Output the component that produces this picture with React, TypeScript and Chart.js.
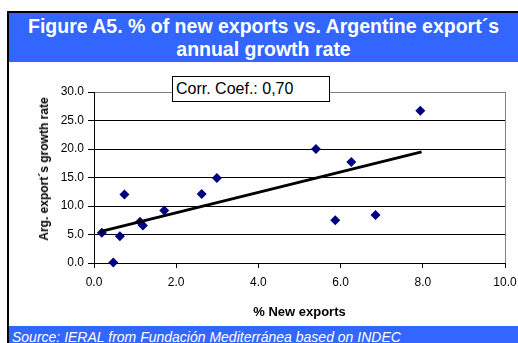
import React, { useEffect, useRef } from "react";
import { Chart, registerables } from "chart.js";

Chart.register(...registerables);

// % of new exports (x) vs. annual growth rate of Argentine exports (y)
const newExportsPct = [0.19, 0.47, 0.63, 0.74, 1.12, 1.19, 1.71, 2.62, 2.99, 5.4, 5.87, 6.26, 6.85, 7.94];
const exportGrowth = [5.3, 0.1, 4.7, 12.0, 7.25, 6.6, 9.2, 12.1, 14.9, 20.0, 7.5, 17.7, 8.4, 26.7];

// Linear trend line end points
const trendX = [0.15, 7.97];
const trendY = [5.5, 19.5];

const xTicks = [0, 2, 4, 6, 8, 10];
const yTicks = [0, 5, 10, 15, 20, 25, 30];

const corrLabel = "Corr. Coef.: 0,70";
const titleLines = ["Figure A5. % of new exports vs. Argentine export´s", "annual growth rate"];
const xTitle = "% New exports";
const yTitle = "Arg. export´s growth rate";
const sourceText = "Source: IERAL from Fundación Mediterránea based on INDEC";

const FONT = "'Liberation Sans', Arial, sans-serif";
const BLUE = "#3366FF";

// let the layout padding alone decide where the plot area sits
const noScalePadding = (s: any) => {
  s.paddingLeft = 0;
  s.paddingRight = 0;
  s.paddingTop = 0;
  s.paddingBottom = 0;
};

export default function App() {
  const canvasRef = useRef<HTMLCanvasElement | null>(null);

  useEffect(() => {
    const canvas = canvasRef.current;
    if (!canvas) return;
    const points = newExportsPct.map((x, i) => ({ x, y: exportGrowth[i] }));
    const trend = trendX.map((x, i) => ({ x, y: trendY[i] }));

    const chart = new Chart(canvas, {
      type: "scatter",
      data: {
        datasets: [
          {
            label: "Trend",
            data: trend,
            showLine: true,
            borderColor: "#000000",
            borderWidth: 3,
            pointRadius: 0,
            pointHoverRadius: 0,
            fill: false,
            clip: false as any,
          },
          {
            label: "Years",
            data: points,
            pointStyle: "rectRot",
            pointRadius: 5,
            pointHoverRadius: 5,
            backgroundColor: "#000080",
            borderColor: "#000080",
            borderWidth: 0,
            clip: false as any,
          },
        ],
      },
      options: {
        responsive: false,
        animation: false,
        devicePixelRatio: 1,
        layout: { padding: { left: 30, right: 13, top: 92, bottom: 17 } },
        plugins: {
          legend: { display: false },
          tooltip: { enabled: false },
          title: { display: false },
        },
        scales: {
          x: {
            type: "linear",
            min: xTicks[0],
            max: xTicks[xTicks.length - 1],
            afterFit: (s: any) => {
              s.height = 63;
              noScalePadding(s);
            },
            afterBuildTicks: (s: any) => {
              s.ticks = xTicks.map((v) => ({ value: v }));
            },
            ticks: {
              color: "#000",
              font: { family: FONT, size: 12 },
              padding: 7,
              maxRotation: 0,
              callback: (v: any) => Number(v).toFixed(1),
            },
            grid: {
              drawOnChartArea: true,
              drawTicks: true,
              tickLength: 5,
              tickColor: "#000",
              color: (ctx: any) => (ctx.tick && ctx.tick.value === 10 ? "#808080" : "rgba(0,0,0,0)"),
              lineWidth: 1,
            },
            border: { display: true, color: "#000", width: 1 },
            title: {
              display: true,
              text: xTitle,
              color: "#000",
              font: { family: FONT, size: 13, weight: "bold" },
              padding: { top: 0, bottom: 6 },
            },
          },
          y: {
            type: "linear",
            min: yTicks[0],
            max: yTicks[yTicks.length - 1],
            afterFit: (s: any) => {
              s.width = 64;
              noScalePadding(s);
            },
            afterBuildTicks: (s: any) => {
              s.ticks = yTicks.map((v) => ({ value: v }));
            },
            ticks: {
              color: "#000",
              font: { family: FONT, size: 12 },
              padding: 4,
              callback: (v: any) => Number(v).toFixed(1),
            },
            grid: {
              drawOnChartArea: true,
              drawTicks: true,
              tickLength: 6,
              tickColor: "#000",
              color: (ctx: any) => (ctx.tick && ctx.tick.value === 30 ? "#808080" : "#000"),
              lineWidth: 1,
            },
            border: { display: true, color: "#000", width: 1 },
            title: { display: false },
          },
        },
      },
    });
    return () => chart.destroy();
  }, []);

  return (
    <div
      style={{
        position: "fixed",
        left: 0,
        top: 0,
        width: 518,
        height: 343,
        overflow: "hidden",
        background: "#fff",
        fontFamily: FONT,
      }}
    >
      <canvas ref={canvasRef} width={518} height={343} style={{ position: "absolute", left: 0, top: 0 }} />
      {/* frame */}
      <div style={{ position: "absolute", left: 7, top: 11, width: 2, height: 332, background: "#000" }} />
      <div style={{ position: "absolute", left: 7, top: 11, width: 511, height: 2, background: "#000" }} />
      {/* title band */}
      <div
        style={{
          position: "absolute",
          left: 9,
          top: 13,
          width: 509,
          height: 49,
          background: BLUE,
          color: "#fff",
          fontWeight: "bold",
          fontSize: 19.5,
          lineHeight: "23px",
          textAlign: "center",
          whiteSpace: "nowrap",
          boxSizing: "border-box",
          paddingTop: 2,
        }}
      >
        {titleLines[0]}
        <br />
        {titleLines[1]}
      </div>
      {/* y axis title, rotated */}
      <div
        style={{
          position: "absolute",
          left: 44,
          top: 169,
          width: 0,
          height: 0,
        }}
      >
        <div
          style={{
            position: "absolute",
            left: 0,
            top: 0,
            transform: "translate(-50%, -50%) rotate(-90deg)",
            fontSize: 12,
            fontWeight: "bold",
            lineHeight: "14px",
            whiteSpace: "nowrap",
            color: "#000",
          }}
        >
          {yTitle}
        </div>
      </div>
      {/* correlation box */}
      <div
        style={{
          position: "absolute",
          left: 172,
          top: 76,
          width: 158,
          height: 26,
          boxSizing: "border-box",
          border: "1px solid #000",
          background: "#fff",
          color: "#000",
          fontSize: 16,
          lineHeight: "24px",
          paddingLeft: 3,
          whiteSpace: "nowrap",
        }}
      >
        {corrLabel}
      </div>
      {/* source band */}
      <div
        style={{
          position: "absolute",
          left: 9,
          top: 326,
          width: 509,
          height: 17,
          background: BLUE,
          color: "#fff",
          overflow: "hidden",
        }}
      >
        <span
          style={{
            position: "absolute",
            left: 3,
            top: 3,
            fontStyle: "italic",
            fontSize: 14,
            lineHeight: "16px",
            whiteSpace: "nowrap",
          }}
        >
          {sourceText}
        </span>
      </div>
    </div>
  );
}
